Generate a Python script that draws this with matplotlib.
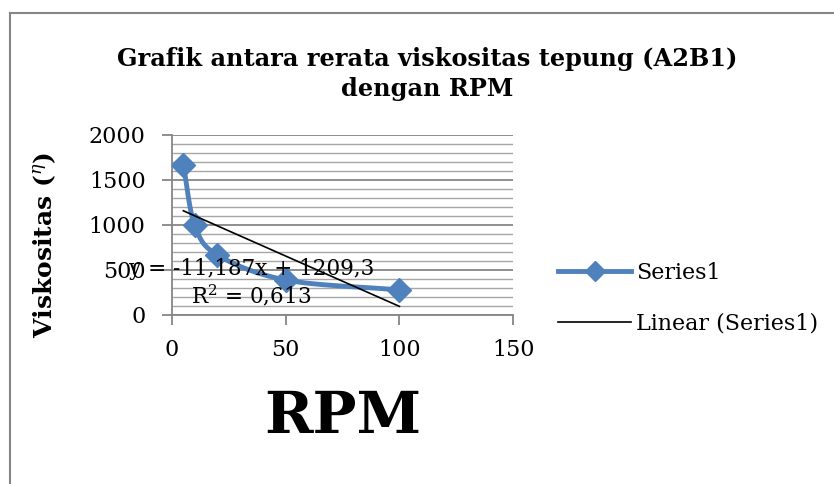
import matplotlib.pyplot as plt
import numpy as np
from matplotlib.lines import Line2D

# data
rpm = [5, 10, 20, 50, 100]
visk = [1667, 1000, 667, 389, 278]
eq_text = 'y = -11,187x + 1209,3\nR$^2$ = 0,613'

plt.rcParams['font.family'] = ['DejaVu Serif']
plt.rcParams['mathtext.fontset'] = 'dejavuserif'

blue = '#4F81BD'
grey = '#868686'


def catmull(x, y, n=30):
    # smooth curve through the points, like the spreadsheet's smoothed line
    x = np.asarray(x, float)
    y = np.asarray(y, float)
    px = np.concatenate([[2*x[0]-x[1]], x, [2*x[-1]-x[-2]]])
    py = np.concatenate([[2*y[0]-y[1]], y, [2*y[-1]-y[-2]]])
    xs, ys = [], []
    t = np.linspace(0, 1, n)
    for i in range(1, len(px)-2):
        for p, out in ((px, xs), (py, ys)):
            p0, p1, p2, p3 = p[i-1], p[i], p[i+1], p[i+2]
            out.extend(0.5*((2*p1) + (-p0+p2)*t + (2*p0-5*p1+4*p2-p3)*t**2 + (-p0+3*p1-3*p2+p3)*t**3))
    return np.array(xs), np.array(ys)


fig = plt.figure(figsize=(8.34, 4.84), dpi=100)
ax = fig.add_axes([0.2062, 0.3492, 0.4091, 0.3719])

# frame of the chart area (only top and left edges visible)
fig.add_artist(Line2D([9.5/834, 9.5/834], [0, 1-13/484], transform=fig.transFigure, color=grey, lw=1.5))
fig.add_artist(Line2D([9.5/834, 1], [1-13/484, 1-13/484], transform=fig.transFigure, color=grey, lw=1.5))

ax.set_xlim(0, 150)
ax.set_ylim(0, 2000)
ax.set_xticks([0, 50, 100, 150])
ax.set_yticks([0, 500, 1000, 1500, 2000])
ax.set_yticks(np.arange(0, 2001, 100), minor=True)
ax.grid(axis='y', which='minor', color='#a6a6a6', lw=1.0)
ax.grid(axis='y', which='major', color='#868686', lw=1.3)
ax.set_axisbelow(True)
for s in ['top', 'right']:
    ax.spines[s].set_visible(False)
for s in ['left', 'bottom']:
    ax.spines[s].set_color(grey)
    ax.spines[s].set_linewidth(1.3)
ax.tick_params(axis='both', which='major', direction='out', length=7, color=grey, width=1.3, labelsize=16)
ax.tick_params(axis='y', which='minor', length=0)
ax.tick_params(axis='y', pad=12)
ax.tick_params(axis='x', pad=10)

sx, sy = catmull(rpm, visk)
ax.plot(sx, sy, color=blue, lw=3.5, solid_capstyle='round', zorder=3)
ax.plot(rpm, visk, 'D', color=blue, ms=12, zorder=4)

slope, intercept = np.polyfit(rpm, visk, 1)
xt = np.array([min(rpm), max(rpm)])
ax.plot(xt, slope*xt + intercept, color='black', lw=1.2, zorder=5)

ax.text(35, 355, eq_text, ha='center', va='center', fontsize=15.5, linespacing=1.15, zorder=6)

fig.text(427/834, 1-74/484, 'Grafik antara rerata viskositas tepung (A2B1)\ndengan RPM',
         ha='center', va='center', fontsize=17.3, fontweight='bold', linespacing=1.3)
fig.text(45/834, 1-245/484, 'Viskositas ($^{\\eta}$)', rotation=90, ha='center', va='center',
         fontsize=18, fontweight='bold')
fig.text(343/834, 1-417/484, 'RPM', ha='center', va='center', fontsize=42, fontweight='bold')

handles = [Line2D([], [], color=blue, lw=3.5, marker='D', ms=10),
           Line2D([], [], color='black', lw=1.2)]
fig.legend(handles, ['Series1', 'Linear (Series1)'], loc='center left',
           bbox_to_anchor=(538/834, 1-298/484), frameon=False, fontsize=16,
           handlelength=3.3, handletextpad=0.2, labelspacing=1.3)

fig.savefig('out.png', dpi=100)
